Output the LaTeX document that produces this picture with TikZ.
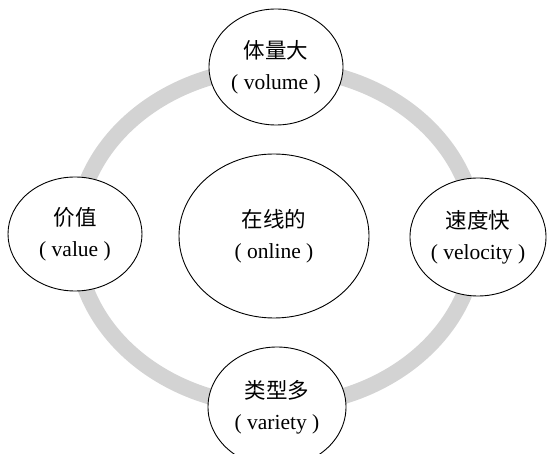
\documentclass[tikz,border=0pt]{standalone}
\usepackage{fontspec}
\setmainfont{Liberation Serif}
\newfontfamily\cjk{Noto Sans CJK SC}
\usetikzlibrary{shapes.geometric}
\definecolor{ringgray}{HTML}{D3D3D3}
\tikzset{
  bubble/.style={ellipse, draw=black, line width=0.9pt, fill=white, inner sep=0pt,
    align=center, font=\fontsize{21.5}{31}\selectfont},
  ring/.style={draw=ringgray, line width=16pt}
}
\begin{document}
\begin{tikzpicture}[x=1pt,y=-1pt]
\useasboundingbox (0,0) rectangle (547,454);
\clip (0,0) rectangle (547,454);
\coordinate (c) at (276,237);
\draw[ring] (c) ellipse [x radius=200, y radius=169];
\node[bubble, minimum width=134pt, minimum height=116pt] (top) at (276,67) {{\cjk 体量大}\\( volume )};
\node[bubble, minimum width=134pt, minimum height=114pt] (left) at (75,234) {{\cjk 价值}\\( value )};
\node[bubble, minimum width=136pt, minimum height=118pt] (right) at (478,237) {{\cjk 速度快}\\( velocity )};
\node[bubble, minimum width=138pt, minimum height=120pt] (bottom) at (277,407) {{\cjk 类型多}\\( variety )};
\node[bubble, minimum width=190pt, minimum height=164pt] (center) at (274,236) {{\cjk 在线的}\\( online )};
\end{tikzpicture}
\end{document}
